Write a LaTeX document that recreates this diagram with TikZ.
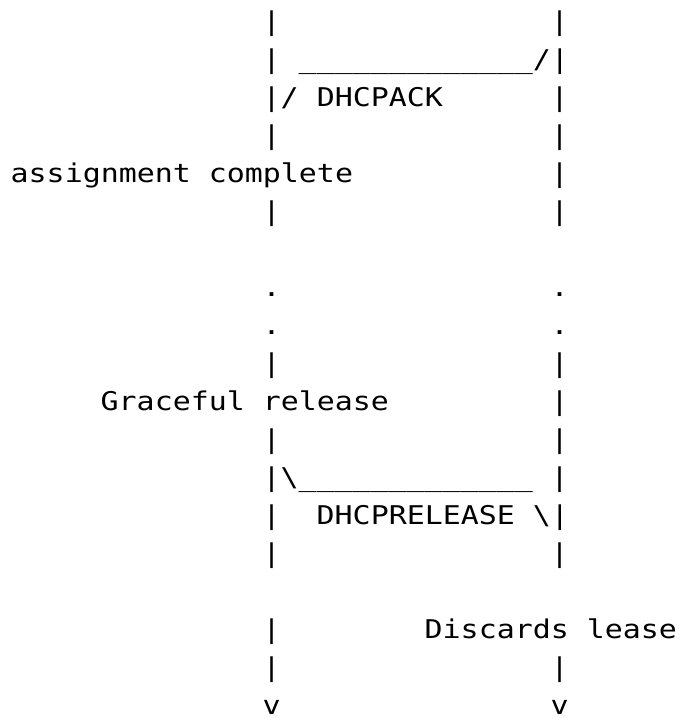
\documentclass[tikz,border=0pt]{standalone}
\usepackage{fontspec}
\newfontfamily\asciifont[FakeStretch=1.16]{DejaVu Sans Mono}
\newcommand\asc[4]{\node[ch] (#1) at ({10.7+18*#2},{30.7+38*#3}) {#4};}
\begin{document}
\begin{tikzpicture}[x=0.5pt,y=-0.5pt,
  ch/.style={anchor=base west, inner sep=0pt, outer sep=0pt,
    font=\asciifont\fontsize{12.9pt}{12.9pt}\selectfont}]
\useasboundingbox (0,0) rectangle (680,717);
% row 0
\asc{r0a}{14}{0}{|}
\asc{r0b}{30}{0}{|}
% row 1
\asc{r1a}{14}{1}{| \_\_\_\_\_\_\_\_\_\_\_\_\_/|}
% row 2
\asc{r2a}{14}{2}{|/ DHCPACK}
\asc{r2b}{30}{2}{|}
% row 3
\asc{r3a}{14}{3}{|}
\asc{r3b}{30}{3}{|}
% row 4
\asc{r4a}{0}{4}{assignment complete}
\asc{r4b}{30}{4}{|}
% row 5
\asc{r5a}{14}{5}{|}
\asc{r5b}{30}{5}{|}
% rows 7-8
\asc{r7a}{14}{7}{.}
\asc{r7b}{30}{7}{.}
\asc{r8a}{14}{8}{.}
\asc{r8b}{30}{8}{.}
% row 9
\asc{r9a}{14}{9}{|}
\asc{r9b}{30}{9}{|}
% row 10
\asc{r10a}{5}{10}{Graceful release}
\asc{r10b}{30}{10}{|}
% row 11
\asc{r11a}{14}{11}{|}
\asc{r11b}{30}{11}{|}
% row 12
\asc{r12a}{14}{12}{|\textbackslash\_\_\_\_\_\_\_\_\_\_\_\_\_}
\asc{r12b}{30}{12}{|}
% row 13
\asc{r13a}{14}{13}{|}
\asc{r13b}{17}{13}{DHCPRELEASE \textbackslash|}
% row 14
\asc{r14a}{14}{14}{|}
\asc{r14b}{30}{14}{|}
% row 16
\asc{r16a}{14}{16}{|}
\asc{r16b}{23}{16}{Discards lease}
% row 17
\asc{r17a}{14}{17}{|}
\asc{r17b}{30}{17}{|}
% row 18
\asc{r18a}{14}{18}{v}
\asc{r18b}{30}{18}{v}
\end{tikzpicture}
\end{document}
